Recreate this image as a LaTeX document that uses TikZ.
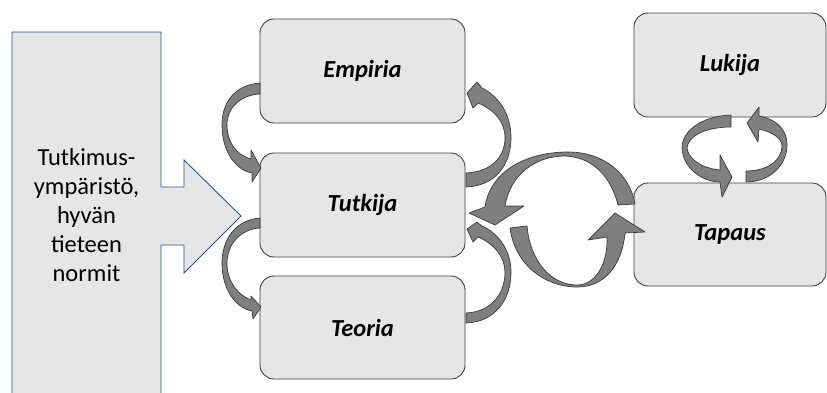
\documentclass[tikz,border=0pt]{standalone}
\usepackage{fontspec}
\setmainfont{Carlito}
\definecolor{boxfill}{HTML}{E6E6E6}
\definecolor{boxedge}{HTML}{3F3F3F}
\definecolor{envedge}{HTML}{2F528F}
\definecolor{curlfill}{HTML}{7F7F7F}
\definecolor{curledge}{HTML}{3A3A3A}
\tikzset{
  stage/.style={draw=boxedge, fill=boxfill, line width=0.9pt, rounded corners=14pt,
    inner sep=0pt, font=\fontsize{24.5}{29}\selectfont\bfseries\itshape},
  curl/.style={fill=curlfill, draw=curledge, line width=0.7pt, line join=round},
  envbox/.style={draw=envedge, fill=boxfill, line width=0.9pt, line join=miter}
}
\begin{document}
\begin{tikzpicture}[x=1pt, y=-1pt]
\useasboundingbox (0,0) rectangle (827,392);

% research environment: tall panel with a block arrow pointing right
\draw[envbox] (12,32) -- (161,32) -- (161,187) -- (184,187) -- (184,160) -- (241,216)
  -- (184,273) -- (184,245) -- (161,245) -- (161,400) -- (12,400) -- cycle;
\node[align=center, font=\fontsize{24.5}{29}\selectfont] (env) at (86.5,215)
  {Tutkimus-\\ympäristö,\\hyvän\\tieteen\\normit};

% stages
\node[stage, minimum width=205pt, minimum height=104pt] (emp) at (362.5,71) {Empiria};
\node[stage, minimum width=205pt, minimum height=104pt] (tut) at (362.5,205) {Tutkija};
\node[stage, minimum width=205pt, minimum height=103pt] (teo) at (362.5,327.5) {Teoria};
\node[stage, minimum width=192pt, minimum height=104pt] (luk) at (730,65) {Lukija};
\node[stage, minimum width=192pt, minimum height=103pt] (tap) at (730,234.5) {Tapaus};

% Empiria -> Tutkija (left side)
\draw[curl] (260,83) .. controls (235,85) and (222,102) .. (222,125)
  .. controls (222,152) and (236,170) .. (252,173) -- (252,182) -- (261,168) -- (251,150)
  -- (251,159) .. controls (236,155) and (227,142) .. (227,125)
  .. controls (227,108) and (240,95) .. (260,94) -- cycle;

% Tutkija -> Teoria (left side)
\draw[curl] (260,218) .. controls (235,220) and (222,240) .. (222,263)
  .. controls (222,290) and (236,308) .. (252,311) -- (253,319) -- (261,307) -- (251,296)
  -- (251,300) .. controls (236,294) and (227,280) .. (227,263)
  .. controls (227,245) and (240,229) .. (260,228) -- cycle;

% Tutkija -> Empiria (right side)
\draw[curl] (466,187) .. controls (495,186) and (511,165) .. (511,138)
  .. controls (511,113) and (498,96) .. (482,88) -- (477,82) -- (467,93) -- (473,108)
  -- (478,103) .. controls (495,110) and (505,122) .. (505,138)
  .. controls (505,158) and (490,172) .. (466,173) -- cycle;

% Teoria -> Tutkija (right side)
\draw[curl] (466,323) .. controls (495,322) and (511,300) .. (511,272)
  .. controls (511,250) and (498,233) .. (482,226) -- (477,222) -- (467,229) -- (473,242)
  -- (478,237) .. controls (495,244) and (505,258) .. (505,272)
  .. controls (505,295) and (490,312) .. (466,313) -- cycle;

% Tapaus -> Tutkija (upper half of the cycle)
\draw[curl] (485,207) .. controls (490,172) and (525,152) .. (568,152)
  .. controls (605,152) and (630,175) .. (635,204) -- (618,205)
  .. controls (612,180) and (595,157) .. (565,156)
  .. controls (535,156) and (510,175) .. (505,206)
  -- (524,206) -- (495,225) -- (469,213) -- cycle;

% Tutkija -> Tapaus (lower half of the cycle)
\draw[curl] (510,228) .. controls (515,265) and (545,287) .. (577,287)
  .. controls (605,287) and (622,265) .. (625,233)
  -- (645,232) -- (615,213) -- (588,240) -- (607,237)
  .. controls (608,265) and (595,285) .. (577,285)
  .. controls (550,285) and (530,260) .. (527,226) -- cycle;

% Lukija -> Tapaus (left loop)
\draw[curl] (731,115) .. controls (703,116) and (682,130) .. (682,148)
  .. controls (683,168) and (702,182) .. (720,182) -- (722,197) -- (732,177) -- (720,155)
  -- (720,170) .. controls (700,168) and (688,158) .. (687,148)
  .. controls (688,136) and (705,127) .. (731,127) -- cycle;

% Tapaus -> Lukija (right loop)
\draw[curl] (746,182) .. controls (770,182) and (787,165) .. (787,145)
  .. controls (787,128) and (775,119) .. (759,116) -- (759,107) -- (747,123) -- (758,142)
  -- (759,129) .. controls (772,132) and (782,138) .. (782,146)
  .. controls (782,160) and (768,171) .. (746,171) -- cycle;
\end{tikzpicture}
\end{document}
